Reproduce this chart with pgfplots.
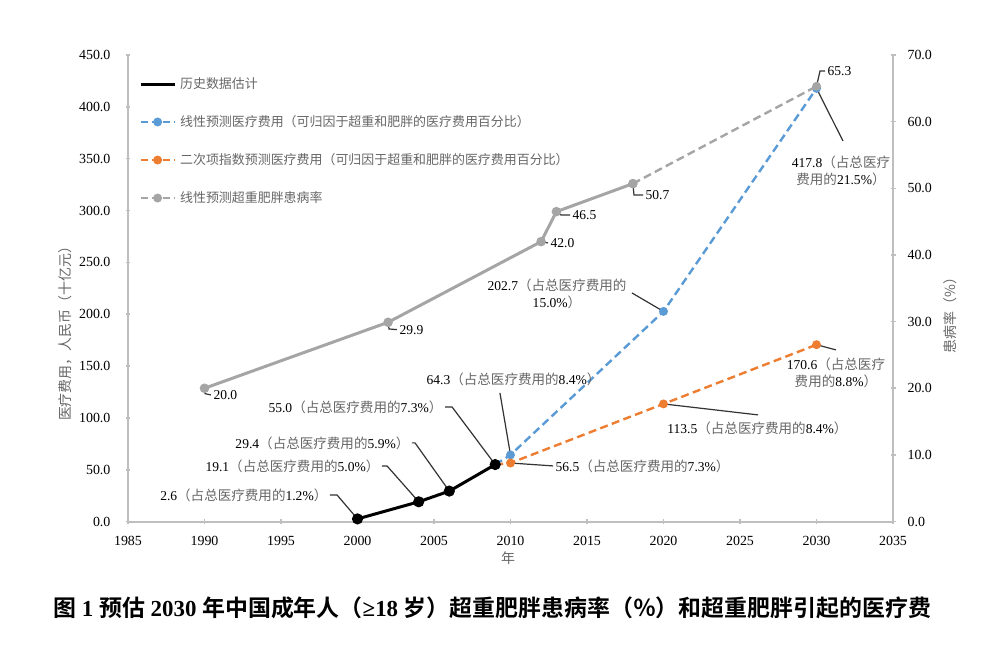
\documentclass[border=0pt]{standalone}
\usepackage{fontspec}
\setmainfont{Liberation Serif}
\newfontfamily\cjk{Noto Sans CJK SC}[BoldFont={Noto Sans CJK SC Bold}]
\usepackage{pgfplots}
\pgfplotsset{compat=1.18}
\definecolor{cblue}{HTML}{5B9BD5}
\definecolor{corange}{HTML}{ED7D31}
\definecolor{cgray}{HTML}{A5A5A5}
\definecolor{axgray}{HTML}{BFBFBF}
\definecolor{txtgray}{HTML}{666666}
\newcommand{\zh}[1]{{\cjk\color{txtgray}#1}}
\newcommand{\pct}[2]{#1\zh{（占总医疗费用的}#2\%\zh{）}}
\newcommand{\fs}{\fontsize{6.8}{8.5}\selectfont}
\tikzset{ld/.style={black!80, line width=0.6bp}, lbl/.style={inner sep=1bp, font=\fs, text=black}}
\pgfplotsset{common/.style={
  at={(0,0)}, anchor=south west, scale only axis, width=382.5bp, height=233.3bp,
  xmin=1985, xmax=2035, clip=false,
  tick align=inside, major tick length=2.5bp, tick style={axgray, line width=0.8bp},
  tick label style={font=\fontsize{7}{8}\selectfont},
  /pgf/number format/assume math mode=true,
}}
\begin{document}
\begin{tikzpicture}
\useasboundingbox (-64bp,-67.2bp) rectangle (436bp,260.8bp);
\begin{axis}[common,
  ymin=0, ymax=450,
  axis x line=bottom, axis y line=left,
  x axis line style={-, axgray, line width=1bp},
  y axis line style={-, axgray, line width=1bp},
  xtick={1985,1990,...,2035}, ytick={0,50,...,450},
  xticklabel style={yshift=-2.5bp, /pgf/number format/1000 sep={}},
  yticklabel style={xshift=-4bp, /pgf/number format/.cd, fixed, fixed zerofill, precision=1},
  xlabel={\zh{年}}, xlabel style={at={(axis description cs:0.497,-0.078)}, anchor=center, font=\fontsize{7}{8}\selectfont},
  ylabel={\zh{医疗费用，人民币（十亿元）}}, ylabel style={at={(axis description cs:-0.082,0.41)}, anchor=center, font=\fontsize{7}{8}\selectfont},
  legend style={draw=none, fill=none, at={(0.014,0.962)}, anchor=north west, row sep=8bp, inner sep=0pt, font=\fontsize{6.5}{7.5}\selectfont},
  legend cell align=left,
]
\addplot[cblue, dash pattern=on 4bp off 2.2bp, line width=1.2bp, mark=*, mark size=1.6bp, mark options={solid}, forget plot]
  coordinates {(2009,55.0)(2010,64.3)(2020,202.7)(2030,417.8)};
\addplot[corange, dash pattern=on 4bp off 2.2bp, line width=1.2bp, mark=*, mark size=1.6bp, mark options={solid}, forget plot]
  coordinates {(2009,55.0)(2010,56.5)(2020,113.5)(2030,170.6)};
\addplot[black, line width=1.5bp, mark=*, mark size=2bp, forget plot]
  coordinates {(2000,2.6)(2004,19.1)(2006,29.4)(2009,55.0)};
\addlegendimage{black, line width=1.5bp}
\addlegendentry{\zh{历史数据估计}}
\addlegendimage{cblue, dash pattern=on 3.5bp off 2bp, line width=1.2bp, mark=*, mark size=1.6bp, mark options={solid}}
\addlegendentry{\zh{线性预测医疗费用（可归因于超重和肥胖的医疗费用百分比）}}
\addlegendimage{corange, dash pattern=on 3.5bp off 2bp, line width=1.2bp, mark=*, mark size=1.6bp, mark options={solid}}
\addlegendentry{\zh{二次项指数预测医疗费用（可归因于超重和肥胖的医疗费用百分比）}}
\addlegendimage{cgray, dash pattern=on 3.5bp off 2bp, line width=1.2bp, mark=*, mark size=1.6bp, mark options={solid}}
\addlegendentry{\zh{线性预测超重肥胖患病率}}
% annotations
\draw[ld] (axis cs:2000,2.6) -- (axis cs:1998.66,25.7) -- (axis cs:1998.2,25.7) node[anchor=east, lbl] {\pct{2.6}{1.2}};
\draw[ld] (axis cs:2004,19.1) -- (axis cs:2001.93,53.7) -- (axis cs:2001.6,53.7) node[anchor=east,lbl]{\pct{19.1}{5.0}};
\draw[ld] (axis cs:2006,29.4) -- (axis cs:2003.76,75.9) -- (axis cs:2003.56,75.9) node[anchor=east,lbl]{\pct{29.4}{5.9}};
\draw[ld] (axis cs:2009,55.0) -- (axis cs:2006.18,110.6) -- (axis cs:2005.72,110.6) node[anchor=east,lbl]{\pct{55.0}{7.3}};
\draw[ld] (axis cs:2010,64.3) -- (axis cs:2009.31,124.1);
\node[lbl] at (axis cs:2010.2,137.6) {\pct{64.3}{8.4}};
\draw[ld] (axis cs:2010,56.5) -- (axis cs:2012.78,53.7) node[anchor=west,lbl]{\pct{56.5}{7.3}};
\draw[ld] (axis cs:2020,113.5) -- (axis cs:2026.18,102.9);
\node[lbl] at (axis cs:2026.14,90.2) {\pct{113.5}{8.4}};
\draw[ld] (axis cs:2020,202.7) -- (axis cs:2017.94,220.5);
\node[lbl, align=center] at (axis cs:2013.04,220.0) {202.7\zh{（占总医疗费用的}\\15.0\%\zh{）}};
\draw[ld] (axis cs:2030,170.6) -- (axis cs:2031.27,165.6);
\node[lbl, align=center] at (axis cs:2031.27,143.4) {170.6\zh{（占总医疗}\\\zh{费用的}8.8\%\zh{）}};
\draw[ld] (axis cs:2030,417.8) -- (axis cs:2031.73,367.1);
\node[lbl, align=center] at (axis cs:2031.6,338.2) {417.8\zh{（占总医疗}\\\zh{费用的}21.5\%\zh{）}};
\node[font=\bfseries\fontsize{11.5}{13}\selectfont, text=black] at (axis description cs:0.476,-0.185)
  {{\cjk 图} 1 {\cjk 预估} 2030 {\cjk 年中国成年人（}≥18 {\cjk 岁）超重肥胖患病率（％）和超重肥胖引起的医疗费}};
\end{axis}
\begin{axis}[common,
  ymin=0, ymax=70, ytick={0,10,...,70},
  axis y line=right, axis x line=none,
  y axis line style={-, axgray, line width=1bp},
  yticklabel style={xshift=2.5bp, /pgf/number format/.cd, fixed, fixed zerofill, precision=1},
  ylabel={\zh{患病率（\%）}}, ylabel style={at={(axis description cs:1.075,0.449)}, anchor=center, font=\fontsize{7}{8}\selectfont},
]
\addplot[cgray, line width=1.5bp, mark=*, mark size=1.6bp]
  coordinates {(1990,20.0)(2002,29.9)(2012,42.0)(2013,46.5)(2018,50.7)};
\addplot[cgray, dash pattern=on 4bp off 2.2bp, line width=1.2bp, mark=*, mark size=1.6bp, mark options={solid}]
  coordinates {(2018,50.7)(2030,65.3)};
\draw[ld] (axis cs:2030,65.3) -- (axis cs:2030.23,67.6) -- (axis cs:2030.56,67.6) node[anchor=west,lbl]{65.3};
\draw[ld] (axis cs:2018,50.7) -- (axis cs:2018.07,49.0) -- (axis cs:2018.66,49.0) node[anchor=west,lbl]{50.7};
\draw[ld] (axis cs:2013,46.5) -- (axis cs:2013.3,46.0) -- (axis cs:2013.89,46.0) node[anchor=west,lbl]{46.5};
\draw[ld] (axis cs:2012,42.0) -- (axis cs:2012.45,41.8) node[anchor=west,lbl]{42.0};
\draw[ld] (axis cs:2002,29.9) -- (axis cs:2002.06,28.9) -- (axis cs:2002.58,28.8) node[anchor=west,lbl]{29.9};
\draw[ld] (axis cs:1990,20.0) -- (axis cs:1990.03,19.2) -- (axis cs:1990.42,19.0) node[anchor=west,lbl]{20.0};
\end{axis}
\end{tikzpicture}
\end{document}
